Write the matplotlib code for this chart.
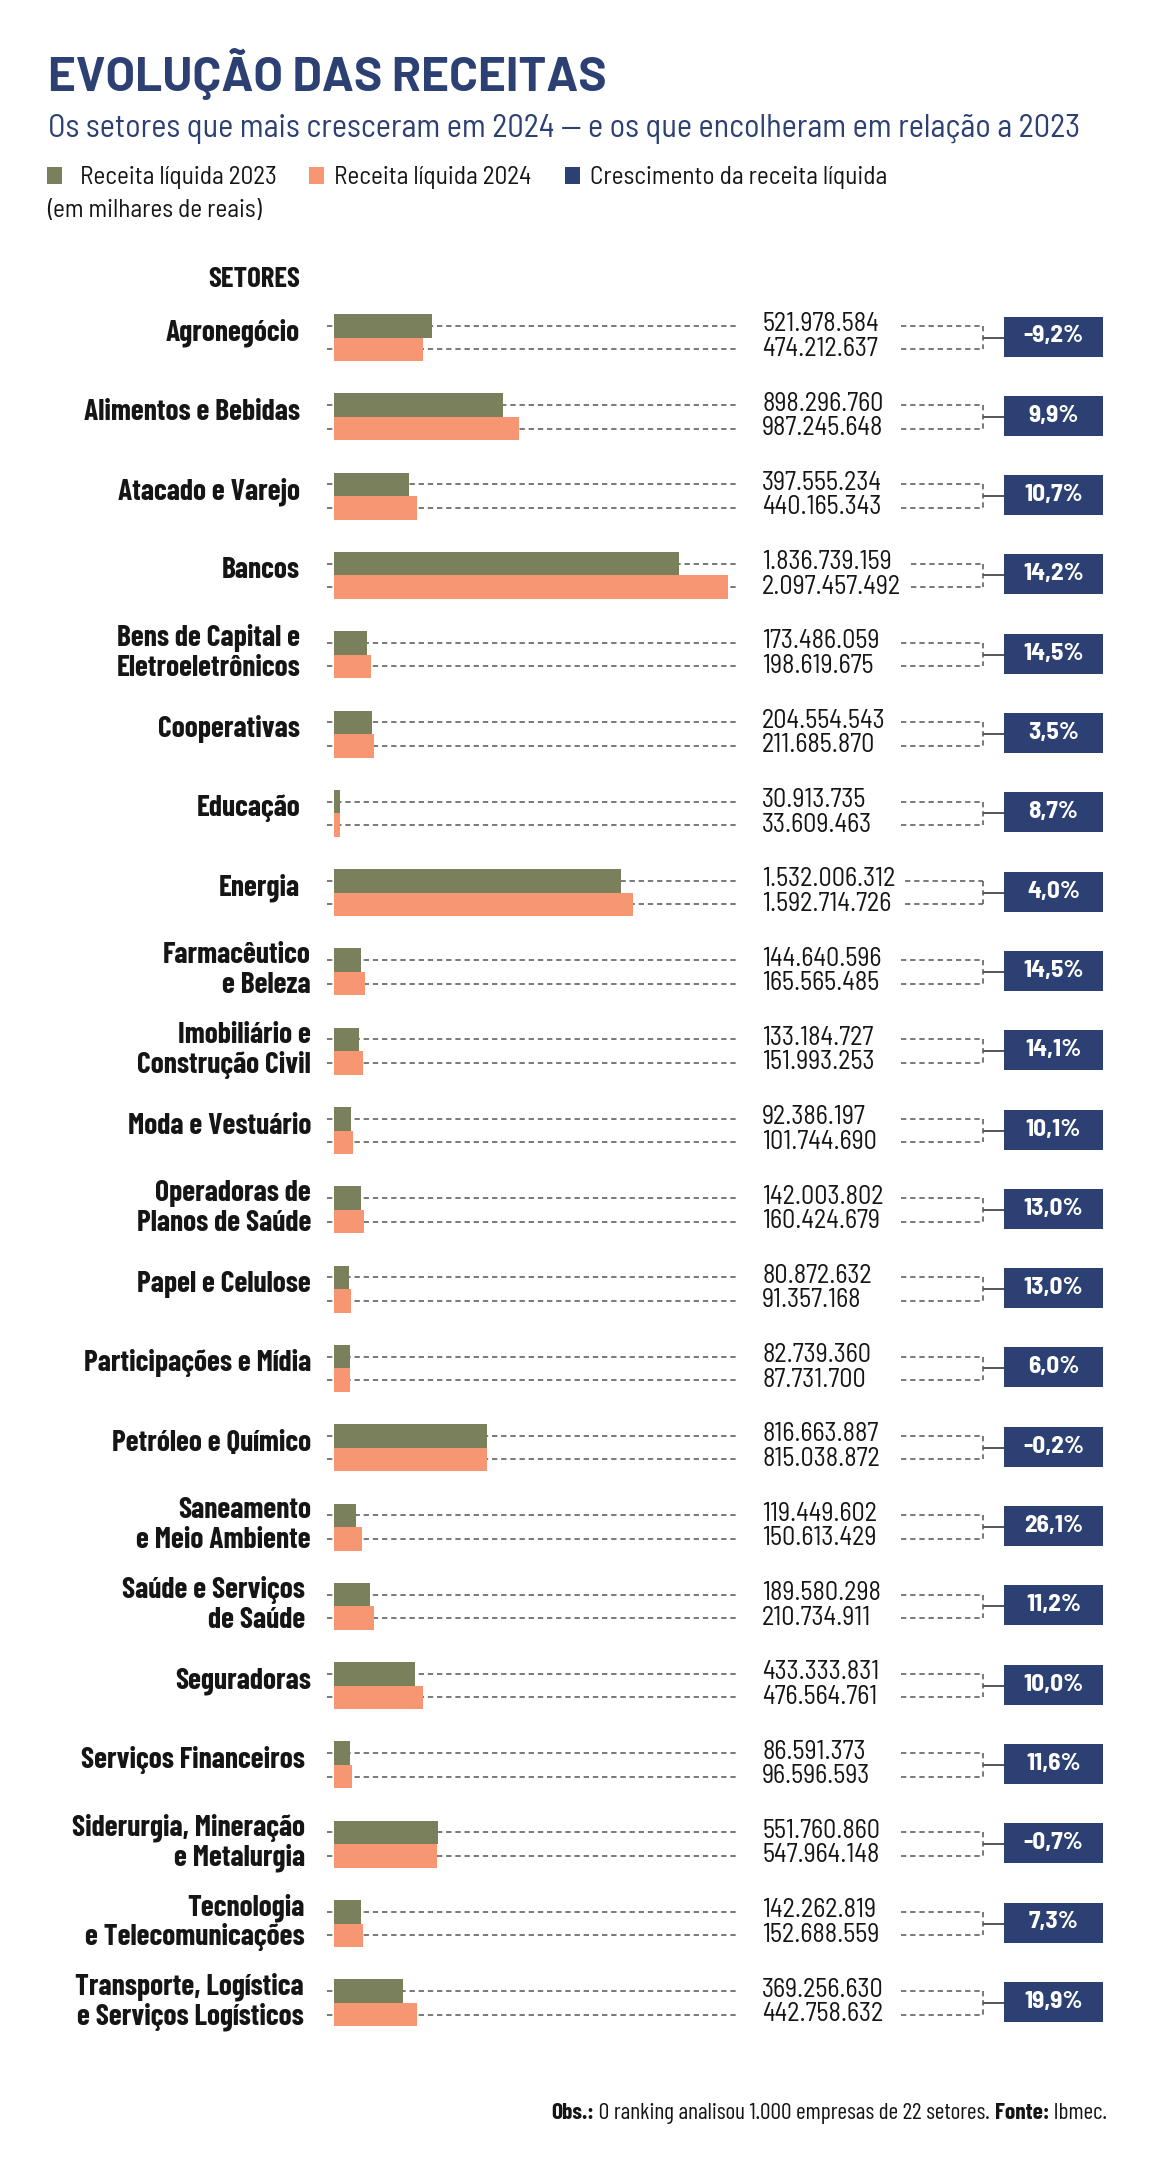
import matplotlib
matplotlib.use('Agg')
import matplotlib.pyplot as plt
import matplotlib.patches as patches
from matplotlib import font_manager as fm

# dados (receita liquida em milhares de reais)
setores = ['Agronegócio', 'Alimentos e Bebidas', 'Atacado e Varejo', 'Bancos',
           'Bens de Capital e\nEletroeletrônicos', 'Cooperativas', 'Educação', 'Energia',
           'Farmacêutico\ne Beleza', 'Imobiliário e\nConstrução Civil', 'Moda e Vestuário',
           'Operadoras de\nPlanos de Saúde', 'Papel e Celulose', 'Participações e Mídia',
           'Petróleo e Químico', 'Saneamento\ne Meio Ambiente', 'Saúde e Serviços\nde Saúde',
           'Seguradoras', 'Serviços Financeiros', 'Siderurgia, Mineração\ne Metalurgia',
           'Tecnologia\ne Telecomunicações', 'Transporte, Logística\ne Serviços Logísticos']
receita_2023 = [521978584, 898296760, 397555234, 1836739159, 173486059, 204554543,
                30913735, 1532006312, 144640596, 133184727, 92386197, 142003802,
                80872632, 82739360, 816663887, 119449602, 189580298, 433333831,
                86591373, 551760860, 142262819, 369256630]
receita_2024 = [474212637, 987245648, 440165343, 2097457492, 198619675, 211685870,
                33609463, 1592714726, 165565485, 151993253, 101744690, 160424679,
                91357168, 87731700, 815038872, 150613429, 210734911, 476564761,
                96596593, 547964148, 152688559, 442758632]
crescimento = [-9.2, 9.9, 10.7, 14.2, 14.5, 3.5, 8.7, 4.0, 14.5, 14.1, 10.1, 13.0,
               13.0, 6.0, -0.2, 26.1, 11.2, 10.0, 11.6, -0.7, 7.3, 19.9]

# borda direita dos rotulos (no original nao e uniforme)
borda_rotulo = [300] * 8 + [311] * 8 + [305, 311, 305, 305, 305, 304]

navy = '#2c4073'
verde = '#7a7f5c'
laranja = '#f69672'
cinza = '#555555'
preto = '#151515'

nomes = {f.name for f in fm.fontManager.ttflist}


def familia(nome):
    return [nome if nome in nomes else 'DejaVu Sans', 'DejaVu Sans']


cond = familia('Barlow Semi Condensed')
estreita = familia('Barlow Condensed')
larga = familia('Barlow')


def fmt_num(v):
    return f'{v:,}'.replace(',', '.')


def fmt_pct(g):
    return f'{g:.1f}'.replace('.', ',') + '%'


W, H = 1174, 2160
fig = plt.figure(figsize=(W / 100, H / 100), dpi=100)
ax = fig.add_axes([0, 0, 1, 1])
ax.set_xlim(0, W)
ax.set_ylim(H, 0)
ax.axis('off')
renderer = fig.canvas.get_renderer()


def ajusta(txt, largura, **kw):
    # tamanho de fonte que deixa o texto com a largura medida na referencia
    t = ax.text(0, 0, txt, fontsize=10, **kw)
    w = t.get_window_extent(renderer).width
    t.remove()
    return 10 * largura / w


# eixo das barras
bar_x0, bar_x1 = 334, 727.5
bx = fig.add_axes([bar_x0 / W, 0, (bar_x1 - bar_x0) / W, 1], zorder=2)
bx.set_xlim(0, max(receita_2024))
bx.set_ylim(H, 0)
bx.axis('off')

# titulo, subtitulo e legenda
tit = 'EVOLUÇÃO DAS RECEITAS'
ax.text(48, 91, tit, fontfamily=larga, fontweight='bold',
        fontsize=ajusta(tit, 560, fontfamily=larga, fontweight='bold'),
        color=navy, va='baseline')
sub = 'Os setores que mais cresceram em 2024 — e os que encolheram em relação a 2023'
ax.text(48, 137, sub, fontfamily=cond, fontsize=ajusta(sub, 1033, fontfamily=cond),
        color=navy, va='baseline')

fs_leg = ajusta('Receita líquida 2023', 197, fontfamily=cond)
leg = [(47, 80, verde, 'Receita líquida 2023'),
       (309, 334, laranja, 'Receita líquida 2024'),
       (565, 590, navy, 'Crescimento da receita líquida')]
for xq, xt, cor, txt in leg:
    ax.add_patch(patches.Rectangle((xq, 167), 15, 17, fc=cor, ec='none'))
    ax.text(xt, 184, txt, fontfamily=cond, fontsize=fs_leg, color=preto, va='baseline')
ax.text(47, 217, '(em milhares de reais)', fontfamily=cond, fontsize=fs_leg, color=preto,
        va='baseline')
ax.text(300, 287, 'SETORES', fontfamily=estreita, fontweight='bold', color=preto,
        fontsize=ajusta('SETORES', 92, fontfamily=estreita, fontweight='bold'),
        va='baseline', ha='right')

fs_lab = ajusta('Agronegócio', 134, fontfamily=estreita, fontweight='bold')
fs_num = ajusta('521.978.584', 117, fontfamily=cond)
fs_pct = ajusta('-9,2%', 60, fontfamily=cond, fontweight='bold')

y0, dy, h = 337.5, 79.3, 23.5
ys = [y0 + i * dy for i in range(len(setores))]
bx.barh([y - h / 2 for y in ys], receita_2023, height=h, color=verde)
bx.barh([y + h / 2 for y in ys], receita_2024, height=h, color=laranja)

dash = (0, (3.5, 2.5))
for i, nome in enumerate(setores):
    yc = ys[i]
    ya, yb = yc - h / 2, yc + h / 2
    xr = borda_rotulo[i]
    linhas = nome.split('\n')
    if len(linhas) == 1:
        ax.text(xr, yc + 3, linhas[0], fontfamily=estreita, fontweight='bold', fontsize=fs_lab,
                color=preto, ha='right', va='baseline')
    else:
        ax.text(xr, yc - 8.5, linhas[0], fontfamily=estreita, fontweight='bold', fontsize=fs_lab,
                color=preto, ha='right', va='baseline')
        ax.text(xr, yc + 21.5, linhas[1], fontfamily=estreita, fontweight='bold', fontsize=fs_lab,
                color=preto, ha='right', va='baseline')

    ax.hlines([ya, yb], 327, 737, colors=cinza, linestyles=dash, lw=1.1, zorder=1)
    t1 = ax.text(762, ya - 1.5, fmt_num(receita_2023[i]), fontfamily=cond, fontsize=fs_num,
                 color=preto, va='center')
    t2 = ax.text(762, yb - 0.5, fmt_num(receita_2024[i]), fontfamily=cond, fontsize=fs_num,
                 color=preto, va='center')
    fim = max(t.get_window_extent(renderer).x1 for t in (t1, t2))
    fim = ax.transData.inverted().transform((fim, 0))[0]
    xs = max(901, fim + 10)
    ax.hlines([ya, yb], xs, 983, colors=cinza, linestyles=dash, lw=1.1)
    ax.vlines(983, ya, yb, colors=cinza, linestyles=dash, lw=1.1)
    ax.hlines(yc, 983, 1004, colors=cinza, lw=1.4)
    ax.add_patch(patches.Rectangle((1004, yc - 21), 99, 40, fc=navy, ec='none'))
    ax.text(1053.5, yc - 1, fmt_pct(crescimento[i]), fontfamily=cond, fontweight='bold',
            fontsize=fs_pct, color='white', ha='center', va='center')

# rodape (partes em negrito e normal, alinhado a direita)
partes = [('Obs.:', 'bold'), (' O ranking analisou 1.000 empresas de 22 setores. ', 'normal'),
          ('Fonte:', 'bold'), (' Ibmec.', 'normal')]
fs_rod = ajusta(''.join(p[0] for p in partes), 548, fontfamily=estreita)
x = 1107
for txt, peso in reversed(partes):
    t = ax.text(x, 2119, txt, fontfamily=estreita, fontweight=peso, fontsize=fs_rod,
                color=preto, ha='right', va='baseline')
    bb = t.get_window_extent(renderer)
    x = ax.transData.inverted().transform((bb.x0, 0))[0]

fig.savefig('out.png', dpi=100)
